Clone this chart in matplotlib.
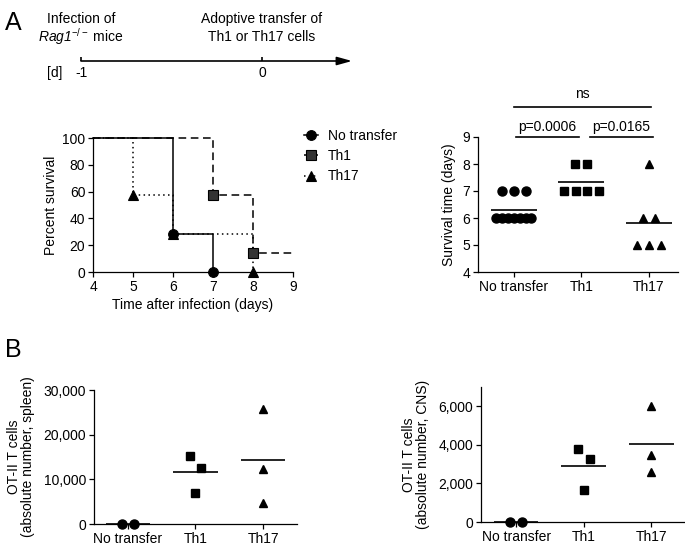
import matplotlib
matplotlib.use('Agg')
import matplotlib.pyplot as plt
from matplotlib.lines import Line2D
from matplotlib.ticker import FuncFormatter
import numpy as np

FS = 10.0
plt.rcParams['font.family'] = ['Liberation Sans', 'DejaVu Sans']
plt.rcParams['font.size'] = FS
plt.rcParams['mathtext.fontset'] = 'custom'
plt.rcParams['mathtext.rm'] = 'Liberation Sans'
plt.rcParams['mathtext.it'] = 'Liberation Sans:italic'
plt.rcParams['mathtext.sf'] = 'Liberation Sans:italic'
plt.rcParams['axes.linewidth'] = 0.9
plt.rcParams['xtick.major.width'] = 0.9
plt.rcParams['ytick.major.width'] = 0.9
plt.rcParams['xtick.major.size'] = 3.5
plt.rcParams['ytick.major.size'] = 3.5

# Timeline
timeline_days = [-1, 0]
timeline_events = ['Infection of\n$\\mathsf{Rag1}^{\\mathregular{-/-}}$ mice',
                   'Adoptive transfer of\nTh1 or Th17 cells']

groups = ['No transfer', 'Th1', 'Th17']

# Kaplan-Meier curves (day, percent survival)
km_no_transfer_t = [4, 6, 7]
km_no_transfer_s = [100, 28.6, 0]
km_th1_t = [4, 7, 8, 9]
km_th1_s = [100, 57.1, 14.3, 14.3]
km_th17_t = [4, 5, 6, 8]
km_th17_s = [100, 57.1, 28.6, 0]

# Survival time per mouse (days)
surv_no_transfer = [6, 6, 6, 6, 6, 6, 6, 7, 7, 7]
surv_th1 = [7, 7, 7, 7, 8, 8]
surv_th17 = [5, 5, 5, 6, 6, 8]
p_labels = ['p=0.0006', 'p=0.0165', 'ns']

# OT-II T cells, absolute numbers
spleen_no_transfer = [0, 0]
spleen_th1 = [15200, 12500, 7000]
spleen_th17 = [25800, 12300, 4700]
cns_no_transfer = [0, 0]
cns_th1 = [3800, 3250, 1650]
cns_th17 = [6000, 3500, 2600]

W, H = 685, 552
fig = plt.figure(figsize=(W / 100, H / 100), dpi=100)


def box(x0, y0, x1, y1):
    # pixel box (top-left origin) -> figure fraction rect
    return [x0 / W, 1 - y1 / H, (x1 - x0) / W, (y1 - y0) / H]


def spread(vals, tol, step=0.175, max_width=0.52):
    vals = np.asarray(vals, float)
    order = np.argsort(-vals, kind='stable')
    xs = np.zeros(len(vals))
    clusters = []
    for i in order:
        if clusters and abs(vals[clusters[-1][-1]] - vals[i]) <= tol:
            clusters[-1].append(i)
        else:
            clusters.append([i])
    for c in clusters:
        n = len(c)
        if n > 1:
            d = min(step, max_width / (n - 1))
            xs[c] = (np.arange(n) - (n - 1) / 2) * d
    return xs


def style(ax):
    ax.spines['top'].set_visible(False)
    ax.spines['right'].set_visible(False)
    ax.tick_params(direction='out', labelsize=FS, pad=2)


fig.text(5 / W, 1 - 30 / H, 'A', fontsize=18, va='baseline')
fig.text(5 / W, 1 - 357 / H, 'B', fontsize=18, va='baseline')

# ---- timeline ----
tl = fig.add_axes(box(20, 10, 360, 80))
tl.set_xlim(-1 - 61 / 181, -1 + 279 / 181)
tl.set_ylim(0, 1)
tl.axis('off')
line_y = 19 / 70
tl.annotate('', xy=(-1 + 271 / 181, line_y), xytext=(-1, line_y),
            arrowprops=dict(arrowstyle='-|>,head_length=0.9,head_width=0.25',
                            color='k', lw=1.2, shrinkA=0, shrinkB=0))
tl.vlines(timeline_days, line_y, line_y + 4 / 70, color='k', lw=1.2)
for d, ev in zip(timeline_days, timeline_events):
    tl.text(d, 7 / 70, str(d), ha='center', va='center')
    l1, l2 = ev.split('\n')
    tl.text(d, 61 / 70, l1, ha='center', va='center')
    tl.text(d, 43 / 70, l2, ha='center', va='center')
tl.text(-1 - 34 / 181, 7 / 70, '[d]', ha='left', va='center')

# ---- Kaplan-Meier ----
ax = fig.add_axes(box(93, 138, 293, 272))
style(ax)
km = [(km_th17_t, km_th17_s, (0, (1, 2.2)), '^', 'k'),
      (km_th1_t, km_th1_s, (0, (5, 3)), 's', '#333333'),
      (km_no_transfer_t, km_no_transfer_s, '-', 'o', 'k')]
handles = {}
for (t, s, ls, mk, fc), name in zip(km, ['Th17', 'Th1', 'No transfer']):
    ax.step(t, s, where='post', color='k', lw=1.1, ls=ls, clip_on=False)
    ev = [i for i in range(1, len(s)) if s[i] < s[i - 1]]
    ax.plot([t[i] for i in ev], [s[i] for i in ev], ls='none', marker=mk,
            ms=7, mfc=fc, mec='k', mew=0.8, clip_on=False, zorder=5)
    handles[name] = Line2D([], [], color='k', lw=1.1, ls=ls, marker=mk,
                           ms=7, mfc=fc, mec='k', mew=0.8)
ax.set_xlim(4, 9)
ax.set_ylim(0, 100)
ax.set_xticks(range(4, 10))
ax.set_yticks(range(0, 101, 20))
ax.set_xlabel('Time after infection (days)', labelpad=3)
ax.set_ylabel('Percent survival', labelpad=3)
fig.legend([handles[g] for g in groups], groups, loc='upper left',
           bbox_to_anchor=(304 / W, 1 - 129 / H), frameon=False,
           borderpad=0, borderaxespad=0, handlelength=1.0,
           handletextpad=0.7, labelspacing=0.45, fontsize=FS)

markers = [('o', 6.5), ('s', 5.6), ('^', 6.3)]

# ---- survival time scatter ----
ax = fig.add_axes(box(478, 137, 678, 272))
style(ax)
for i, vals in enumerate([surv_no_transfer, surv_th1, surv_th17]):
    xs = i + spread(vals, 0.5)
    mk, ms = markers[i]
    ax.plot(xs, vals, ls='none', marker=mk, ms=ms, color='k', clip_on=False)
    ax.hlines(np.mean(vals), i - 0.34, i + 0.34, color='k', lw=1.2)
ax.set_xlim(-0.53, 2.43)
ax.set_ylim(4, 9)
ax.set_xticks(range(3))
ax.set_xticklabels(groups)
ax.set_yticks(range(4, 10))
ax.set_ylabel('Survival time (days)', labelpad=5)
brackets = [(0, 1, 9.0, 9.37), (1, 2, 9.0, 9.37), (0, 2, 10.11, 10.6)]
for (a, b, yl, yt), lab in zip(brackets, p_labels):
    if b - a == 1:
        x0, x1 = a + 0.03 + 0.1 * a, b - 0.04 + 0.1 * a
    else:
        x0, x1 = a, b + 0.03
    ax.plot([x0, x1], [yl, yl], color='k', lw=1.2, clip_on=False)
    ax.text((x0 + x1) / 2, yt, lab, ha='center', va='center')

comma = FuncFormatter(lambda v, p: '{:,.0f}'.format(v))

# ---- spleen ----
ax = fig.add_axes(box(94, 390, 297, 524))
style(ax)
for i, vals in enumerate([spleen_no_transfer, spleen_th1, spleen_th17]):
    xs = i + spread(vals, 3000)
    mk, ms = markers[i]
    ax.plot(xs, vals, ls='none', marker=mk, ms=ms, color='k', clip_on=False, zorder=5)
    ax.hlines(np.mean(vals), i - 0.33, i + 0.33, color='k', lw=1.2, clip_on=False)
ax.set_xlim(-0.5, 2.5)
ax.set_ylim(0, 30000)
ax.set_xticks(range(3))
ax.set_xticklabels(groups)
ax.set_yticks(range(0, 30001, 10000))
ax.yaxis.set_major_formatter(comma)
ax.set_ylabel('OT-II T cells\n(absolute number, spleen)', labelpad=6,
              linespacing=1.05)

# ---- CNS ----
ax = fig.add_axes(box(481, 387, 685, 522))
style(ax)
for i, vals in enumerate([cns_no_transfer, cns_th1, cns_th17]):
    xs = i + spread(vals, 700)
    mk, ms = markers[i]
    ax.plot(xs, vals, ls='none', marker=mk, ms=ms, color='k', clip_on=False, zorder=5)
    ax.hlines(np.mean(vals), i - 0.33, i + 0.33, color='k', lw=1.2, clip_on=False)
ax.set_xlim(-0.52, 2.5)
ax.set_ylim(0, 7000)
ax.set_xticks(range(3))
ax.set_xticklabels(groups)
ax.set_yticks(range(0, 6001, 2000))
ax.yaxis.set_major_formatter(comma)
ax.set_ylabel('OT-II T cells\n(absolute number, CNS)', labelpad=6,
              linespacing=1.05)

fig.savefig('out.png', dpi=100)
